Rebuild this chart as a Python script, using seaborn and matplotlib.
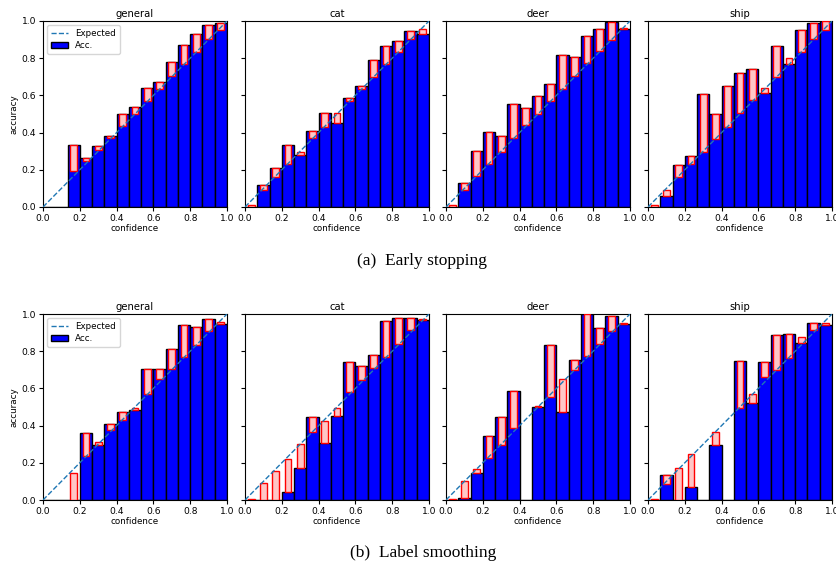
import numpy as np
import matplotlib
matplotlib.use("Agg")
import matplotlib.pyplot as plt
import seaborn as sns
from matplotlib.lines import Line2D
from matplotlib.patches import Patch

nan = np.nan
n_bins = 15
classes = ["general", "cat", "deer", "ship"]
captions = ["(a)  Early stopping", "(b)  Label smoothing"]

# early stopping: accuracy / average confidence per bin (nan = empty bin)
es_general_acc = [nan, nan, 0.336, 0.266, 0.327, 0.381, 0.500, 0.536, 0.638, 0.673, 0.781, 0.872, 0.932, 0.980, 0.989]
es_general_conf = [nan, nan, 0.192, 0.245, 0.304, 0.369, 0.435, 0.502, 0.568, 0.633, 0.703, 0.770, 0.836, 0.903, 0.950]
es_cat_acc = [0.0, 0.119, 0.208, 0.331, 0.280, 0.407, 0.506, 0.452, 0.588, 0.651, 0.788, 0.866, 0.891, 0.948, 0.928]
es_cat_conf = [0.012, 0.092, 0.163, 0.231, 0.297, 0.369, 0.430, 0.503, 0.570, 0.633, 0.698, 0.769, 0.834, 0.904, 0.958]
es_deer_acc = [0.0, 0.130, 0.303, 0.401, 0.383, 0.556, 0.531, 0.597, 0.661, 0.816, 0.805, 0.922, 0.958, 0.993, 0.955]
es_deer_conf = [0.012, 0.094, 0.164, 0.233, 0.298, 0.370, 0.439, 0.500, 0.570, 0.634, 0.704, 0.774, 0.838, 0.899, 0.962]
es_ship_acc = [0.0, 0.061, 0.227, 0.276, 0.609, 0.501, 0.649, 0.721, 0.741, 0.611, 0.865, 0.771, 0.950, 0.987, 1.000]
es_ship_conf = [0.013, 0.092, 0.160, 0.232, 0.295, 0.364, 0.429, 0.506, 0.573, 0.638, 0.701, 0.800, 0.836, 0.905, 0.950]

# label smoothing
ls_general_acc = [nan, nan, 0.0, 0.359, 0.297, 0.409, 0.472, 0.486, 0.706, 0.703, 0.814, 0.939, 0.928, 0.971, 0.944]
ls_general_conf = [nan, nan, 0.144, 0.238, 0.310, 0.377, 0.432, 0.497, 0.571, 0.649, 0.706, 0.769, 0.836, 0.910, 0.955]
ls_cat_acc = [0.0, 0.0, 0.0, 0.043, 0.171, 0.446, 0.304, 0.453, 0.741, 0.719, 0.781, 0.964, 0.977, 0.977, 0.966]
ls_cat_conf = [0.007, 0.094, 0.158, 0.219, 0.300, 0.363, 0.426, 0.495, 0.579, 0.646, 0.710, 0.768, 0.840, 0.912, 0.971]
ls_deer_acc = [0.0, 0.009, 0.144, 0.342, 0.446, 0.585, nan, 0.502, 0.836, 0.471, 0.754, 1.000, 0.923, 0.991, 0.948]
ls_deer_conf = [0.007, 0.100, 0.164, 0.227, 0.297, 0.387, nan, 0.505, 0.552, 0.649, 0.701, 0.772, 0.838, 0.910, 0.951]
ls_ship_acc = [0.0, 0.135, 0.0, 0.072, nan, 0.296, nan, 0.745, 0.522, 0.744, 0.888, 0.895, 0.845, 0.953, 0.939]
ls_ship_conf = [0.005, 0.087, 0.170, 0.249, nan, 0.365, nan, 0.495, 0.569, 0.661, 0.700, 0.765, 0.877, 0.912, 0.953]

rows = [
    [(es_general_acc, es_general_conf), (es_cat_acc, es_cat_conf),
     (es_deer_acc, es_deer_conf), (es_ship_acc, es_ship_conf)],
    [(ls_general_acc, ls_general_conf), (ls_cat_acc, ls_cat_conf),
     (ls_deer_acc, ls_deer_conf), (ls_ship_acc, ls_ship_conf)],
]

W, H = 837, 569
fig = plt.figure(figsize=(W / 100, H / 100), dpi=100)

lefts = [43, 245, 446, 648]
ax_w = 184
tops = [21, 314]
ax_h = 186

bin_w = 1.0 / n_bins
centers = (np.arange(n_bins) + 0.5) * bin_w

for r, row in enumerate(rows):
    for c, (acc, conf) in enumerate(row):
        acc = np.array(acc, dtype=float)
        conf = np.array(conf, dtype=float)
        ax = fig.add_axes([lefts[c] / W, 1 - (tops[r] + ax_h) / H, ax_w / W, ax_h / H])

        sns.histplot(x=centers, weights=np.nan_to_num(acc), bins=n_bins, binrange=(0, 1),
                     color="blue", edgecolor="black", linewidth=1.0, alpha=1, ax=ax, zorder=2)

        m = ~np.isnan(acc) & ~np.isnan(conf)
        lo = np.minimum(acc[m], conf[m])
        hi = np.maximum(acc[m], conf[m])
        ax.bar(centers[m], hi - lo, bottom=lo, width=bin_w * 0.55,
               facecolor="#ffc6c6", edgecolor="red", linewidth=1.0, zorder=3)

        ax.axline((0, 0), slope=1, linestyle="--", color="#1f77b4", linewidth=1.0, zorder=4)

        ax.set_xlim(0, 1)
        ax.set_ylim(0, 1)
        ax.set_xticks(np.arange(0, 1.01, 0.2))
        ax.set_yticks(np.arange(0, 1.01, 0.2))
        ax.tick_params(labelsize=6.6, length=3, width=0.8, pad=2)
        ax.set_title(classes[c], fontsize=7.2, pad=3)
        ax.set_xlabel("confidence", fontsize=6.3, labelpad=1)
        if c == 0:
            ax.set_ylabel("accuracy", fontsize=6.3, labelpad=2)
            handles = [Line2D([0], [0], linestyle="--", color="#1f77b4", linewidth=1.0),
                       Patch(facecolor="blue", edgecolor="black")]
            ax.legend(handles, ["Expected", "Acc."], loc="upper left", fontsize=6.3,
                      borderpad=0.4, labelspacing=0.4, handlelength=2.0)
        else:
            ax.set_ylabel("")
            ax.set_yticklabels([])

fig.text(422 / W, 1 - 261 / H, captions[0], ha="center", va="center",
         fontsize=12.5, family="Liberation Serif")
fig.text(423 / W, 1 - 553 / H, captions[1], ha="center", va="center",
         fontsize=12.5, family="Liberation Serif")

fig.savefig("out.png", dpi=100)
